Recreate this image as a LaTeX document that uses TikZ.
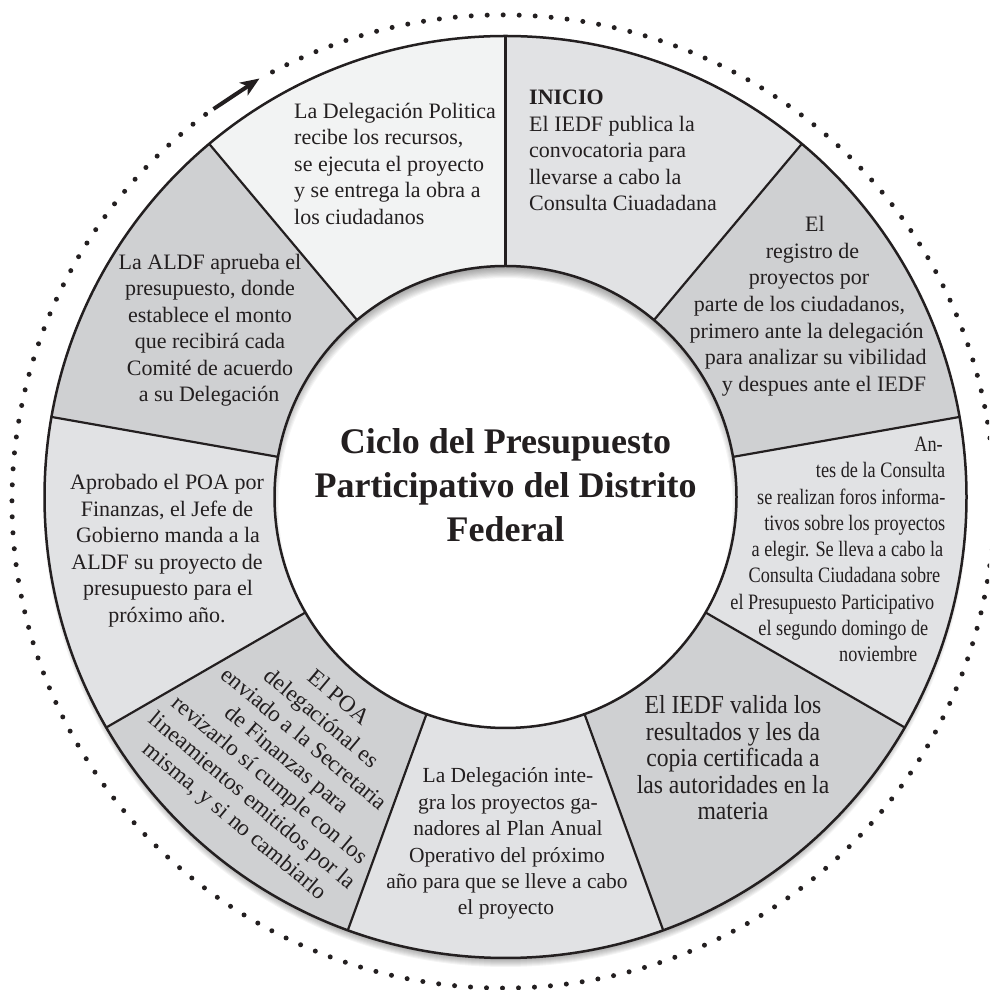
\documentclass[tikz,border=0pt]{standalone}
\usepackage{fontspec}
\setmainfont{Liberation Serif}
\usetikzlibrary{arrows.meta}
\definecolor{segA}{HTML}{F2F3F3}
\definecolor{segB}{HTML}{E1E2E4}
\definecolor{segC}{HTML}{CFD0D2}
\definecolor{ink}{HTML}{231F20}
\newcommand\sector[3]{\fill[#3] (ctr) -- ([shift={(#1:461pt)}]ctr) arc[start angle=#1,end angle=#2,radius=461pt] -- cycle;}
\newcommand\tl[5]{\node[txt,anchor=#2] (#1) at (#3,{990-#4}) {#5};}
\newcommand\tle[3]{\node[txtE,anchor=base] (#1) at (733,{990-#2}) {\scalebox{0.91}[1]{#3}};}
\newcommand\tlD[4]{\node[txt,anchor=base east] (#1) at (#2,{990-#3}) {\scalebox{0.83}[1]{#4}};}
\tikzset{
  txt/.style={font=\fontsize{22}{26.6}\selectfont, inner sep=0pt, text=ink},
  txtF/.style={font=\fontsize{21.5}{26.4}\selectfont, inner sep=0pt, text=ink},
  txtE/.style={font=\fontsize{26}{26.5}\selectfont, inner sep=0pt, text=ink},
  txtP/.style={font=\fontsize{23}{26.8}\selectfont, inner sep=0pt, text=ink},
  ttl/.style={font=\fontsize{36}{44}\selectfont\bfseries, inner sep=0pt, text=ink},
  ringline/.style={draw=ink, line width=2.5pt},
  spoke/.style={draw=ink, line width=2.2pt},
  dotring/.style={draw=ink, line width=5pt, line cap=round, dash pattern=on 0pt off 16pt},
  arrowline/.style={draw=ink, line width=4pt, -{Stealth[length=19pt,width=15pt,inset=5pt]}}
}
\begin{document}
\begin{tikzpicture}[x=1pt,y=1pt]
\useasboundingbox (0,0) rectangle (989,990);
\clip (0,0) rectangle (989,990);
\coordinate (ctr) at (505.5,493);
\coordinate (dc) at (503,488.5);
% outer soft shadow
\foreach \k in {0,...,7} \fill[black,opacity=0.045] ([yshift=-8pt]ctr) circle[radius={(455+\k)*1pt}];
% sectors
\sector{90}{130}{segA}
\sector{50}{90}{segB}
\sector{10}{50}{segC}
\sector{-30}{10}{segB}
\sector{-70}{-30}{segC}
\sector{-110}{-70}{segB}
\sector{-150}{-110}{segC}
\sector{170}{210}{segB}
\sector{130}{170}{segC}
% inner disk with shadow
\fill[white] (ctr) circle[radius=231pt];
\begin{scope}
\clip (ctr) circle[radius=231pt];
\foreach \k in {0,...,9} \fill[black,opacity=0.04,even odd rule] (ctr) circle[radius=250pt] ([yshift=-8pt]ctr) circle[radius={(227+\k*1.1)*1pt}];
\end{scope}
% outlines
\draw[ringline] (ctr) circle[radius=461pt];
\draw[ringline] (ctr) circle[radius=231pt];
\foreach \a in {90,50,10,-30,-70,-110,-150,170,130}
  \draw[spoke] ([shift={(\a:231pt)}]ctr) -- ([shift={(\a:461pt)}]ctr);
% segment A
\tl{a1}{base west}{294}{118.2}{La Delegación Politica}
\tl{a2}{base west}{294}{144.8}{recibe los recursos,}
\tl{a3}{base west}{294}{171.4}{se ejecuta el proyecto}
\tl{a4}{base west}{294}{198.0}{y se entrega la obra a}
\tl{a5}{base west}{294}{224.6}{los ciudadanos}
% segment B
\tl{b1}{base west}{529}{104.5}{\textbf{INICIO}}
\tl{b2}{base west}{529}{131.1}{El IEDF publica la}
\tl{b3}{base west}{529}{157.7}{convocatoria para}
\tl{b4}{base west}{529}{184.3}{llevarse a cabo la}
\tl{b5}{base west}{529}{210.9}{Consulta Ciuadadana}
% segment C
\tl{c1}{base}{815}{231.7}{El}
\tl{c2}{base}{812.5}{258.3}{registro de}
\tl{c3}{base}{809}{284.9}{proyectos por}
\tl{c4}{base}{799.5}{311.5}{parte de los ciudadanos,}
\tl{c5}{base}{806.7}{338.1}{primero ante la delegación}
\tl{c6}{base}{815.8}{364.7}{para analizar su vibilidad}
\tl{c7}{base}{824}{391.3}{y despues ante el IEDF}
% segment D (condensed, right aligned)
\tlD{d1}{943}{451.7}{An-}
\tlD{d2}{945.5}{477.95}{tes de la Consulta}
\tlD{d3}{945.5}{504.2}{se realizan foros informa-}
\tlD{d4}{945.5}{530.45}{tivos sobre los proyectos}
\tlD{d5}{943.5}{556.7}{a elegir. Se lleva a cabo la}
\tlD{d6}{940.5}{582.95}{Consulta Ciudadana sobre}
\tlD{d7}{934.5}{609.2}{el Presupuesto Participativo}
\tlD{d8}{928.5}{635.45}{el segundo domingo de}
\tlD{d9}{917.5}{661.7}{noviembre}
% segment E
\tle{e1}{714}{El IEDF valida los}
\tle{e2}{740.5}{resultados y les da}
\tle{e3}{767}{copia certificada a}
\tle{e4}{793.5}{las autoridades en la}
\tle{e5}{820}{materia}
% segment F
\node[txtF,anchor=base] (f1) at (508,{990-783.0}) {La Delegación inte-};
\node[txtF,anchor=base] (f2) at (508,{990-809.4}) {gra los proyectos ga-};
\node[txtF,anchor=base] (f3) at (508,{990-835.8}) {nadores al Plan Anual};
\node[txtF,anchor=base] (f4) at (507,{990-862.2}) {Operativo del próximo};
\node[txtF,anchor=base] (f5) at (507,{990-888.6}) {año para que se lleve a cabo};
\node[txtF,anchor=base] (f6) at (506,{990-915.0}) {el proyecto};
% segment G (rotated)
\node[txtP, align=center, rotate=-40] (poa) at (286,229.5)
  {El POA\\delegaciónal es\\enviado a la Secretaria\\de Finanzas para\\revizarlo sí cumple con los\\lineamientos emitidos por la\\misma, y si no cambiarlo};
% segment H
\tl{g1}{base}{167}{489.5}{Aprobado el POA por}
\tl{g2}{base}{167}{516.1}{Finanzas, el Jefe de}
\tl{g3}{base}{168}{542.7}{Gobierno manda a la}
\tl{g4}{base}{167}{569.3}{ALDF su proyecto de}
\tl{g5}{base}{168}{595.9}{presupuesto para el}
\tl{g6}{base}{167}{622.5}{próximo año.}
% segment I
\tl{h1}{base}{210}{269.5}{La ALDF aprueba el}
\tl{h2}{base}{210}{296.0}{presupuesto, donde}
\tl{h3}{base}{210}{322.5}{establece el monto}
\tl{h4}{base}{210}{349.0}{que recibirá cada}
\tl{h5}{base}{210}{375.5}{Comité de acuerdo}
\tl{h6}{base}{209}{402.0}{a su Delegación}
% title
\node[ttl,anchor=base] (t1) at (505.5,{990-453.3}) {Ciclo del Presupuesto};
\node[ttl,anchor=base] (t2) at (505.5,{990-497.5}) {Participativo del Distrito};
\node[ttl,anchor=base] (t3) at (505.5,{990-541.7}) {Federal};
% dotted ring and arrow
\draw[dotring] ([shift={(118:491pt and 486.5pt)}]dc) arc[start angle=118,end angle=-234,x radius=491pt,y radius=486.5pt];
\coordinate (atail) at (213.5,881);
\coordinate (atip) at (259.5,911.5);
\draw[arrowline] (atail) -- (atip);
\end{tikzpicture}
\end{document}
